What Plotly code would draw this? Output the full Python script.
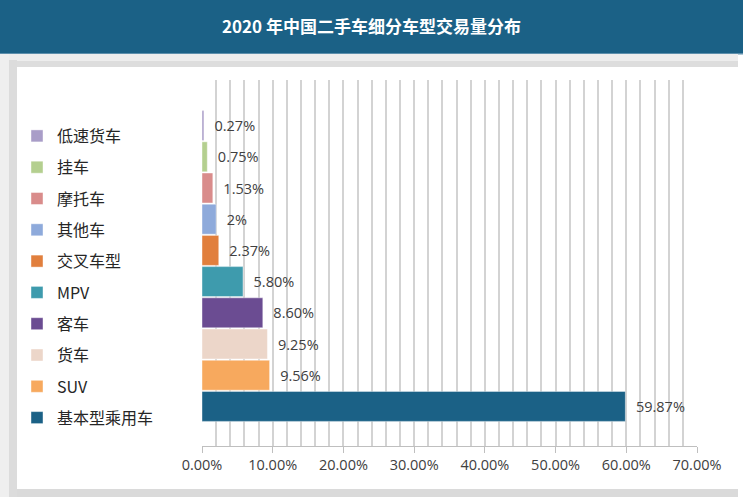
import plotly.graph_objects as go

# Data (bottom to top)
categories = ["基本型乘用车", "SUV", "货车", "客车", "MPV", "交叉车型", "其他车", "摩托车", "挂车", "低速货车"]
shares = [0.5987, 0.0956, 0.0925, 0.0860, 0.0580, 0.0237, 0.0200, 0.0153, 0.0075, 0.0027]
labels = ["59.87%", "9.56%", "9.25%", "8.60%", "5.80%", "2.37%", "2%", "1.53%", "0.75%", "0.27%"]
colors = ["#1b6186", "#f7a95e", "#ecd6c9", "#6b4c92", "#3e9bad", "#e17f3d", "#8eaadb", "#d98c8b", "#b4cf8f", "#a99dc8"]
x_ticks = [0, 0.1, 0.2, 0.3, 0.4, 0.5, 0.6, 0.7]

FONT = "Open Sans, Noto Sans, Noto Sans CJK SC, sans-serif"
CJK = "Noto Sans CJK SC, sans-serif"
W, H = 743, 500

fig = go.Figure()
n = len(categories)
for i, (name, v, lab, c) in enumerate(zip(categories, shares, labels, colors)):
    fig.add_trace(go.Bar(
        y=[name], x=[v], orientation="h", name=name,
        marker=dict(color=c, line=dict(color="rgba(255,255,255,0.7)", width=0.6)),
        text=["  " + lab], textposition="outside", cliponaxis=False,
        textfont=dict(size=14.5, color="#404040", family=FONT),
        legendgroup=name, legendrank=n - i,
    ))

def px_rect(x0, y0, x1, y1, color, layer="below"):
    # convert pixel coords of the page to paper coords of the plot area
    l, r, t, b = 202, 697, 80, 446
    return dict(type="rect", xref="paper", yref="paper",
                x0=(x0 - l) / (r - l), x1=(x1 - l) / (r - l),
                y0=(b - y1) / (b - t), y1=(b - y0) / (b - t),
                line_width=0, fillcolor=color, layer=layer)

shapes = [
    px_rect(0, 0, W, 53, "#1b6186"),
    px_rect(0, 53, W, 54.5, "#5d8fac"),
    px_rect(0, 54, 738, 61, "#ededed"),
    px_rect(0, 61, 738, 67, "#dddddd"),
    px_rect(0, 54, 9, 497, "#efefef"),
    px_rect(9, 60, 17, 497, "#dcdcdc"),
    px_rect(17, 489, 738, 497, "#dadada"),
    px_rect(17, 67, 738, 489, "#ffffff"),
]

fig.update_layout(
    width=W, height=H,
    margin=dict(l=202, r=46, t=80, b=54),
    paper_bgcolor="#ffffff", plot_bgcolor="#f5f5f5",
    barmode="overlay", bargap=0.04,
    showlegend=True,
    shapes=shapes,
    font=dict(family=FONT, color="#404040"),
    title=dict(text="<b>2020 年中国二手车细分车型交易量分布</b>", x=0.5, xanchor="center",
               xref="container", y=1 - 27 / H, yref="container", yanchor="middle",
               font=dict(size=17, color="#ffffff", family=CJK)),
    legend=dict(x=17 / W, xref="container", xanchor="left", y=1 - 119 / H, yref="container",
                yanchor="top", traceorder="grouped", tracegroupgap=7.5, itemwidth=30,
                maxheight=1, bgcolor="rgba(0,0,0,0)", itemclick=False,
                font=dict(size=16, color="#262626", family=CJK)),
    xaxis=dict(range=[0, 0.7], tickvals=x_ticks, tickformat=".2%", showgrid=True,
               gridcolor="#d3d3d3", gridwidth=1.5,
               minor=dict(dtick=0.02, showgrid=True, gridcolor="#d3d3d3", gridwidth=1.5),
               ticks="outside", ticklen=6, tickcolor="#bfbfbf", showline=True, linecolor="#bfbfbf",
               zeroline=False, tickfont=dict(size=14.5, color="#404040", family=FONT)),
    yaxis=dict(categoryorder="array", categoryarray=categories, showticklabels=False,
               range=[-0.5 - 24 / 31.2, 9.5 + 30 / 31.2], showgrid=False, zeroline=False),
)

fig.write_html("out.html")
